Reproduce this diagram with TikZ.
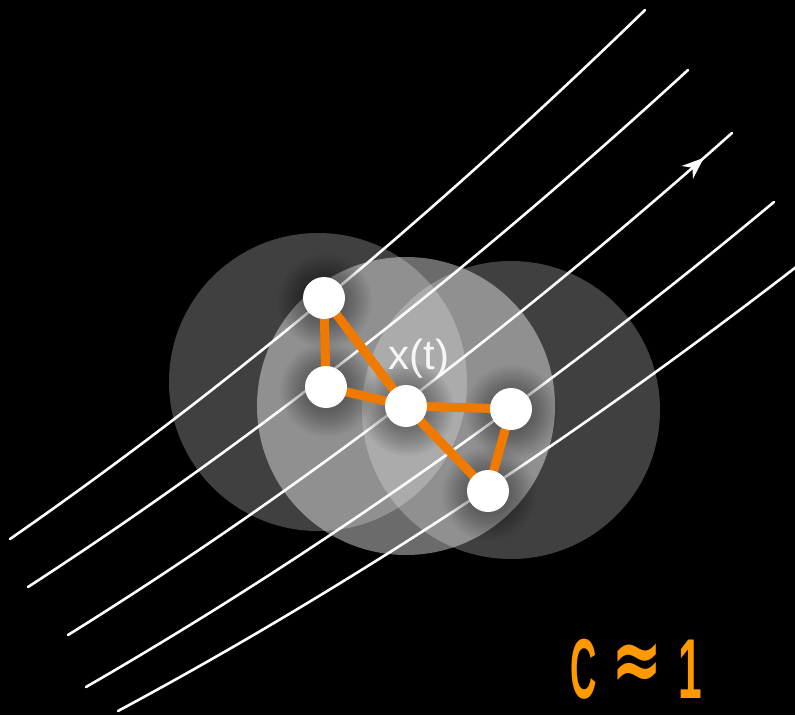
\documentclass[tikz,border=0pt]{standalone}
\usepackage{fontspec}
\setmainfont{Liberation Sans}
\newfontfamily\symfont{DejaVu Sans}
\usetikzlibrary{calc,arrows.meta,decorations.markings}
\definecolor{edgeorange}{RGB}{240,122,0}
\definecolor{labelorange}{RGB}{255,153,0}
\tikzset{
  flow/.style={draw=white, line width=2.6pt, line cap=round},
  blob/.style={fill=white, fill opacity=0.25},
  midblob/.style={fill=white, fill opacity=0.42},
  bead/.style={circle, fill=white, minimum size=42pt, inner sep=0pt},
  bond/.style={draw=edgeorange, line width=9pt},
  arrowmark/.style={postaction={decorate}, decoration={markings,
      mark=at position 0.955 with {\arrow{Stealth[length=22pt,width=17pt,inset=7pt]}}}}
}
\newcommand{\flowline}[3]{%
  \draw[flow,#3] (#1) .. controls ($(#1)!0.6667!(#2)$) and ($(#2e)!0.6667!(#2)$) .. (#2e);}
\begin{document}
\begin{tikzpicture}[x=1pt,y=-1pt]
  \fill[black] (0,0) rectangle (795,715);
  \useasboundingbox (0,0) rectangle (795,715);
  \clip (0,0) rectangle (795,715);
  % gray circles
  \fill[blob] (318,382) circle (149);
  \fill[blob] (511,410) circle (149);
  \fill[midblob] (406,406) circle (149);
  % flow lines: start, control, end
  \coordinate (s1) at (10,539);  \coordinate (c1) at (327.5,318.5); \coordinate (c1e) at (645,10);
  \coordinate (s2) at (28,587);  \coordinate (c2) at (358,372.5);   \coordinate (c2e) at (688,70);
  \coordinate (s3) at (68,635);  \coordinate (c3) at (400,428);     \coordinate (c3e) at (732,133);
  \coordinate (s4) at (86,687);  \coordinate (c4) at (430,488.5);   \coordinate (c4e) at (774,202);
  \coordinate (s5) at (118,711); \coordinate (c5) at (468,523);     \coordinate (c5e) at (818,250);
  \flowline{s1}{c1}{}
  \flowline{s2}{c2}{}
  \flowline{s3}{c3}{arrowmark}
  \flowline{s4}{c4}{}
  \flowline{s5}{c5}{}
  % bead positions
  \coordinate (pA) at (324,298);
  \coordinate (pB) at (326,387);
  \coordinate (pC) at (406,406);
  \coordinate (pD) at (511,409);
  \coordinate (pE) at (488,491);
  % soft shadows
  \foreach \p in {pA,pB,pC,pD,pE}{
    \foreach \r in {21,23,...,47}{
      \fill[black, fill opacity=0.026] ($(\p)+(1,3)$) circle (\r);
    }
  }
  % bonds
  \draw[bond] (pA) -- (pB);
  \draw[bond] (pA) -- (pC);
  \draw[bond] (pB) -- (pC);
  \draw[bond] (pC) -- (pD);
  \draw[bond] (pC) -- (pE);
  \draw[bond] (pD) -- (pE);
  % beads
  \node[bead] (A) at (pA) {};
  \node[bead] (B) at (pB) {};
  \node[bead] (C) at (pC) {};
  \node[bead] (D) at (pD) {};
  \node[bead] (E) at (pE) {};
  % labels
  \node[text=white, text opacity=0.9, font=\fontsize{42}{44}\selectfont, inner sep=0pt, anchor=base] (xt) at (419,369) {x(t)};
  \node[text=labelorange, font=\bfseries\fontsize{85}{90}\selectfont, inner sep=0pt, anchor=base] (lc) at (583.5,698) {\scalebox{0.43}[1]{C}};
  \node[text=labelorange, font=\symfont\bfseries\fontsize{90}{90}\selectfont, inner sep=0pt] (lapprox) at (637,667) {\scalebox{0.68}[1]{≈}};
  \node[text=labelorange, font=\bfseries\fontsize{85}{90}\selectfont, inner sep=0pt, anchor=base] (lone) at (690,698) {\scalebox{0.5}[1]{1}};
\end{tikzpicture}
\end{document}
